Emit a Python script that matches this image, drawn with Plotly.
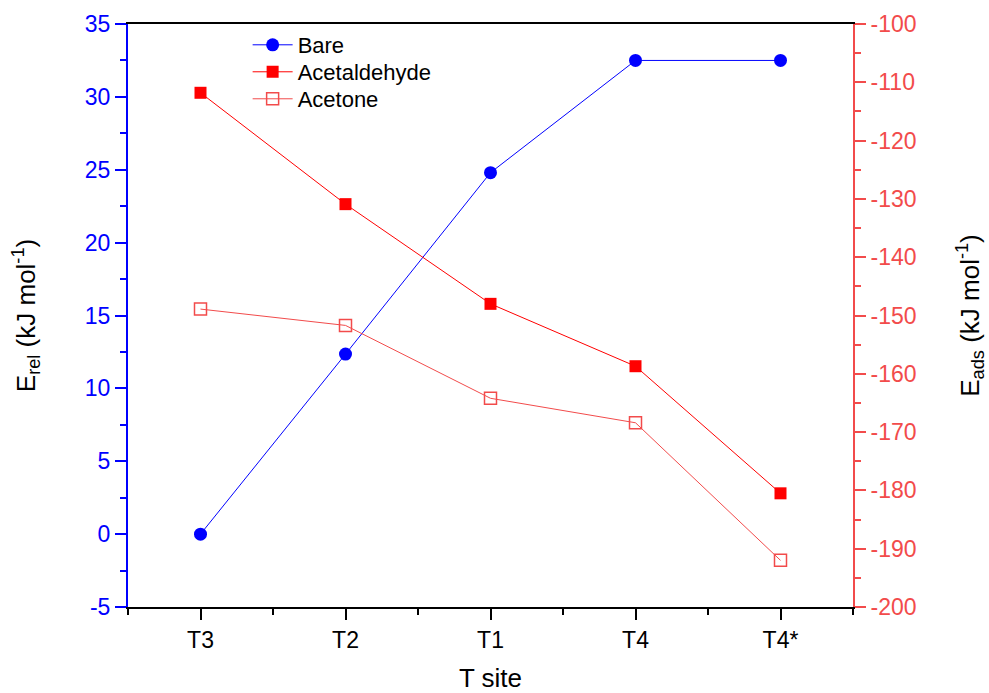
import plotly.graph_objects as go

# T-site order along the x axis
sites = ["T3", "T2", "T1", "T4", "T4*"]

# Relative energy of the bare sites (kJ/mol), left axis
bare = [0.0, 12.35, 24.8, 32.5, 32.5]

# Adsorption energies (kJ/mol), right axis
acetaldehyde = [-111.8, -130.9, -148.0, -158.7, -180.5]
acetone = [-148.9, -151.7, -164.2, -168.4, -192.0]

# Axis tick values (labels written with a plain hyphen)
left_ticks = [-5, 0, 5, 10, 15, 20, 25, 30, 35]
right_ticks = [-200, -190, -180, -170, -160, -150, -140, -130, -120, -110, -100]

xpos = list(range(len(sites)))

BLUE = "#0000FF"
RED = "#FF0000"
LIGHT_RED = "#F24B4B"
FONT = "Arial, Liberation Sans, sans-serif"

fig = go.Figure()

fig.add_trace(go.Scatter(
    x=xpos, y=bare, name="Bare", mode="lines+markers",
    line=dict(color=BLUE, width=1),
    marker=dict(symbol="circle", size=13, color=BLUE),
    yaxis="y", legend="legend",
))
fig.add_trace(go.Scatter(
    x=xpos, y=acetaldehyde, name="Acetaldehyde", mode="lines+markers",
    line=dict(color=RED, width=1),
    marker=dict(symbol="square", size=12, color=RED),
    yaxis="y2", legend="legend2",
))
fig.add_trace(go.Scatter(
    x=xpos, y=acetone, name="Acetone", mode="lines+markers",
    line=dict(color=LIGHT_RED, width=1),
    marker=dict(symbol="square-open", size=12, color=LIGHT_RED,
                line=dict(width=1.5, color=LIGHT_RED)),
    yaxis="y2", legend="legend3",
))


def legend_box(ytop):
    return dict(
        x=0.165, y=ytop, xanchor="left", yanchor="top",
        bgcolor="rgba(0,0,0,0)", font=dict(size=22, color="black"),
        itemwidth=40,
    )


fig.update_layout(
    width=989, height=693,
    margin=dict(l=128, r=136, t=24, b=86),
    paper_bgcolor="white", plot_bgcolor="white",
    font=dict(family=FONT, color="black", size=23),
    showlegend=True,
    legend=legend_box(1.0),
    legend2=legend_box(0.9537),
    legend3=legend_box(0.9074),
    xaxis=dict(
        range=[-0.5, 4.5], tickmode="array", tickvals=xpos, ticktext=sites,
        automargin=False,
        showgrid=False, zeroline=False,
        showline=True, linecolor="black", linewidth=2, mirror=True,
        ticks="outside", ticklen=11, tickwidth=2, tickcolor="black",
        minor=dict(tickmode="array", tickvals=[-0.5, 0.5, 1.5, 2.5, 3.5, 4.5],
                   ticks="outside", ticklen=6, tickwidth=2, tickcolor="black",
                   showgrid=False),
        tickfont=dict(size=23, color="black"),
        title=dict(text="T site", font=dict(size=26, color="black"), standoff=22),
    ),
    yaxis=dict(
        range=[-5, 35], tickmode="array", tickvals=left_ticks,
        ticktext=[str(v) for v in left_ticks],
        automargin=False,
        showgrid=False, zeroline=False,
        showline=True, linecolor=BLUE, linewidth=2,
        ticks="outside", ticklen=11, tickwidth=2, tickcolor=BLUE,
        minor=dict(dtick=2.5, ticks="outside", ticklen=6, tickwidth=2,
                   tickcolor=BLUE, showgrid=False),
        tickfont=dict(size=23, color=BLUE),
        title=dict(text="E<sub>rel</sub> (kJ mol<sup>-1</sup>)",
                   font=dict(size=26, color="black"), standoff=42),
    ),
    yaxis2=dict(
        range=[-200, -100], tickmode="array", tickvals=right_ticks,
        ticktext=[str(v) for v in right_ticks],
        overlaying="y", side="right", anchor="x",
        automargin=False,
        showgrid=False, zeroline=False,
        showline=True, linecolor=LIGHT_RED, linewidth=2,
        ticks="outside", ticklen=11, tickwidth=2, tickcolor=LIGHT_RED,
        minor=dict(dtick=5, ticks="outside", ticklen=6, tickwidth=2,
                   tickcolor=LIGHT_RED, showgrid=False),
        tickfont=dict(size=23, color=LIGHT_RED),
        title=dict(text="E<sub>ads</sub> (kJ mol<sup>-1</sup>)",
                   font=dict(size=26, color="black"), standoff=45),
    ),
)

fig.write_html("out.html")
